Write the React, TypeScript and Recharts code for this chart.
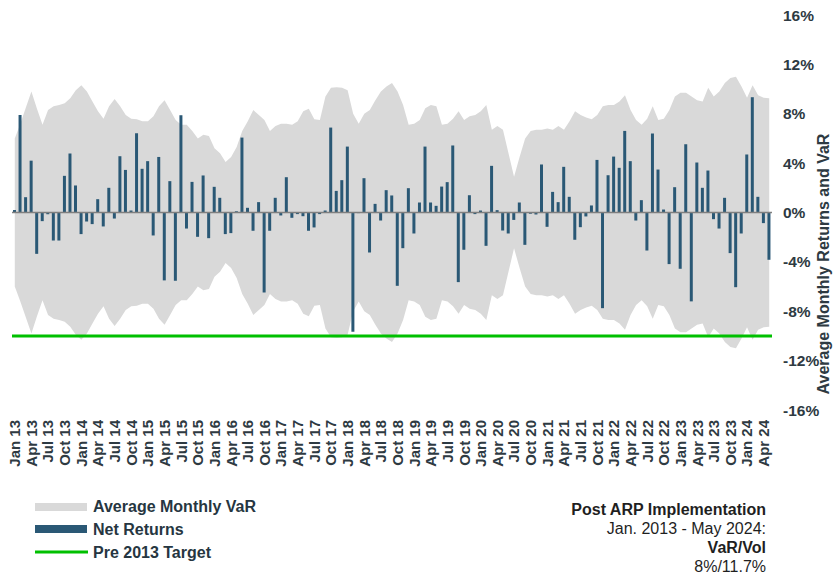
import React from 'react';
import { ComposedChart, Area, Bar, XAxis, YAxis, ReferenceLine } from 'recharts';

const MONTH_NAMES = ['Jan', 'Feb', 'Mar', 'Apr', 'May', 'Jun', 'Jul', 'Aug', 'Sep', 'Oct', 'Nov', 'Dec'];
const YEARS = ['13', '14', '15', '16', '17', '18', '19', '20', '21', '22', '23', '24'];

// Jan 2013 .. May 2024, monthly net returns (%)
const NET_RETURNS = [
  0.2, 7.9, 1.24, 4.2, -3.35, -0.7, -0.14, -2.27, -2.27, 2.97, 4.78, 2.19,
  -1.75, -0.73, -0.94, 1.08, -1.13, 2.0, -0.49, 4.56, 3.45, 0.16, 6.42, 3.54,
  4.16, -1.86, 4.5, -5.5, 2.54, -5.53, 7.88, -1.3, 2.48, -1.97, 3.0, -2.08,
  2.08, 1.19, -1.75, -1.67, 0.1, 6.07, 0.38, -1.48, 0.84, -6.48, -1.48, 1.19,
  -0.24, 2.86, -0.43, -0.13, -0.3, -1.48, -1.21, -0.13, 0.16, 6.88, 1.75, 2.62,
  5.34, -9.66, -0.05, 2.78, -3.24, 0.7, -0.65, 1.81, 1.38, -5.94, -2.89, 1.97,
  -1.7, 0.81, 5.34, 0.81, 0.54, 2.1, 2.46, 5.43, -5.64, -3.02, 1.4, -0.13,
  0.16, -2.7, 3.78, 0.19, -1.46, -1.7, -0.6, 0.81, -2.62, -0.1, -0.16, 3.89,
  -1.16, 1.67, 0.84, 3.7, 1.27, -2.21, -1.19, -0.32, 0.57, 4.26, -7.75, 3.02,
  4.53, 3.62, 6.61, 4.16, -0.65, 1.0, -3.08, 6.4, 3.48, 0.24, -4.18, 2.05,
  -4.56, 5.53, -7.2, 4.05, 2.0, 3.4, -0.54, -1.3, 1.19, -3.29, -6.05, -1.7,
  4.7, 9.34, 1.27, -0.86, -3.83,
];

// average monthly VaR (%), drawn as a +/- band
const AVG_VAR = [
  6.0, 7.2, 8.5, 9.8, 8.4, 7.1, 8.3, 8.6, 8.7, 8.85, 9.25, 9.9,
  10.3, 9.8, 9.0, 8.2, 7.6, 8.6, 9.2, 8.6, 7.9, 7.6, 7.55, 7.4,
  7.4, 7.8, 8.6, 9.1, 8.3, 7.5, 7.1, 7.1, 6.6, 6.0, 6.3, 6.2,
  5.2, 4.8, 4.1, 4.5, 5.3, 6.6, 7.4, 8.3, 7.9, 7.5, 6.6, 7.0,
  7.2, 7.2, 7.1, 7.4, 8.2, 8.4, 7.55, 7.5, 9.4, 10.1, 10.15, 10.1,
  9.9, 8.0, 7.2, 8.0, 8.3, 9.1, 9.8, 10.2, 10.5, 9.8, 8.7, 7.1,
  7.2, 7.5, 8.45, 8.7, 8.6, 7.1, 7.2, 7.6, 8.2, 7.5, 7.8, 7.9,
  8.2, 8.7, 6.7, 7.0, 6.7, 4.8, 2.9, 4.5, 6.0, 6.6, 6.7, 6.7,
  6.8, 6.7, 7.0, 6.7, 7.4, 8.2, 7.9, 7.7, 7.55, 7.9, 8.6, 8.7,
  8.7, 9.0, 9.5, 8.3, 7.5, 7.1, 7.6, 8.6, 7.5, 7.6, 8.3, 9.4,
  9.7, 9.7, 9.4, 9.1, 9.0, 10.1, 9.4, 9.8, 10.5, 10.9, 11.0, 10.2,
  9.3, 10.3, 9.5, 9.3, 9.25,
];

const PRE_2013_TARGET = -10;
const Y_TICKS = [-16, -12, -8, -4, 0, 4, 8, 12, 16];

const MONTHS = YEARS.flatMap((y) => MONTH_NAMES.map((m) => `${m} ${y}`)).slice(0, NET_RETURNS.length);

const chartData = MONTHS.map((month, i) => ({
  month,
  ret: NET_RETURNS[i],
  band: [-AVG_VAR[i], AVG_VAR[i]],
}));

const FONT = '"Liberation Sans", Arial, sans-serif';
const AXIS_TEXT = '#2e3a42';
const BAR_COLOR = '#2a5875';
const VAR_COLOR = '#d9d9d9';
const TARGET_COLOR = '#00c000';

function MonthTick({ x, y, payload }: any) {
  const ty = y + 2;
  return (
    <text
      x={x}
      y={ty}
      transform={`rotate(-90, ${x}, ${ty})`}
      textAnchor="end"
      dy="0.36em"
      fontSize={15}
      fontWeight="bold"
      fontFamily={FONT}
      fill={AXIS_TEXT}
    >
      {payload.value}
    </text>
  );
}

function PctTick({ x, y, payload }: any) {
  return (
    <text x={x} y={y} dy="0.36em" textAnchor="start" fontSize={15.5} fontWeight="bold" fontFamily={FONT} fill={AXIS_TEXT}>
      {`${payload.value}%`}
    </text>
  );
}

export default function App() {
  return (
    <div style={{ position: 'absolute', left: 0, top: 0, width: 835, height: 574, background: '#fff' }}>
      <ComposedChart
        width={835}
        height={480}
        data={chartData}
        margin={{ top: 15, right: 13, bottom: 0, left: 12 }}
        barCategoryGap={0}
      >
        <XAxis
          dataKey="month"
          interval={2}
          height={70}
          axisLine={false}
          tickLine={false}
          tick={<MonthTick />}
        />
        <YAxis
          orientation="right"
          width={50}
          domain={[-16, 16]}
          ticks={Y_TICKS}
          allowDataOverflow
          axisLine={false}
          tickLine={false}
          tickMargin={5}
          tick={<PctTick />}
        />
        <Area
          dataKey="band"
          type="linear"
          fill={VAR_COLOR}
          fillOpacity={1}
          stroke="none"
          isAnimationActive={false}
        />
        <ReferenceLine y={0} stroke="#7f7f7f" strokeWidth={1.5} />
        <Bar dataKey="ret" fill={BAR_COLOR} barSize={3} isAnimationActive={false} />
        <ReferenceLine y={PRE_2013_TARGET} stroke={TARGET_COLOR} strokeWidth={3} />
      </ComposedChart>

      <svg
        width={835}
        height={574}
        style={{ position: 'absolute', left: 0, top: 0, pointerEvents: 'none' }}
        fontFamily={FONT}
      >
        <text
          transform="translate(829, 264) rotate(-90)"
          textAnchor="middle"
          fontSize={16}
          fontWeight="bold"
          fill={AXIS_TEXT}
        >
          Average Monthly Returns and VaR
        </text>

        <rect x={35} y={503} width={52} height={8} fill={VAR_COLOR} />
        <text x={93} y={512} fontSize={16} fontWeight="bold" fill="#263641">Average Monthly VaR</text>
        <rect x={35} y={525} width={52} height={8} fill={BAR_COLOR} />
        <text x={93} y={535} fontSize={16} fontWeight="bold" fill="#263641">Net Returns</text>
        <line x1={35} x2={88} y1={552} y2={552} stroke={TARGET_COLOR} strokeWidth={3} />
        <text x={93} y={558} fontSize={16} fontWeight="bold" fill="#263641">Pre 2013 Target</text>

        <text x={766} y={515} textAnchor="end" fontSize={16} fontWeight="bold" fill="#1f1f1f">Post ARP Implementation</text>
        <text x={766} y={534} textAnchor="end" fontSize={16} fill="#1f1f1f">Jan. 2013 - May 2024:</text>
        <text x={766} y={553} textAnchor="end" fontSize={16} fontWeight="bold" fill="#1f1f1f">VaR/Vol</text>
        <text x={766} y={572} textAnchor="end" fontSize={16} fill="#1f1f1f">8%/11.7%</text>
      </svg>
    </div>
  );
}
